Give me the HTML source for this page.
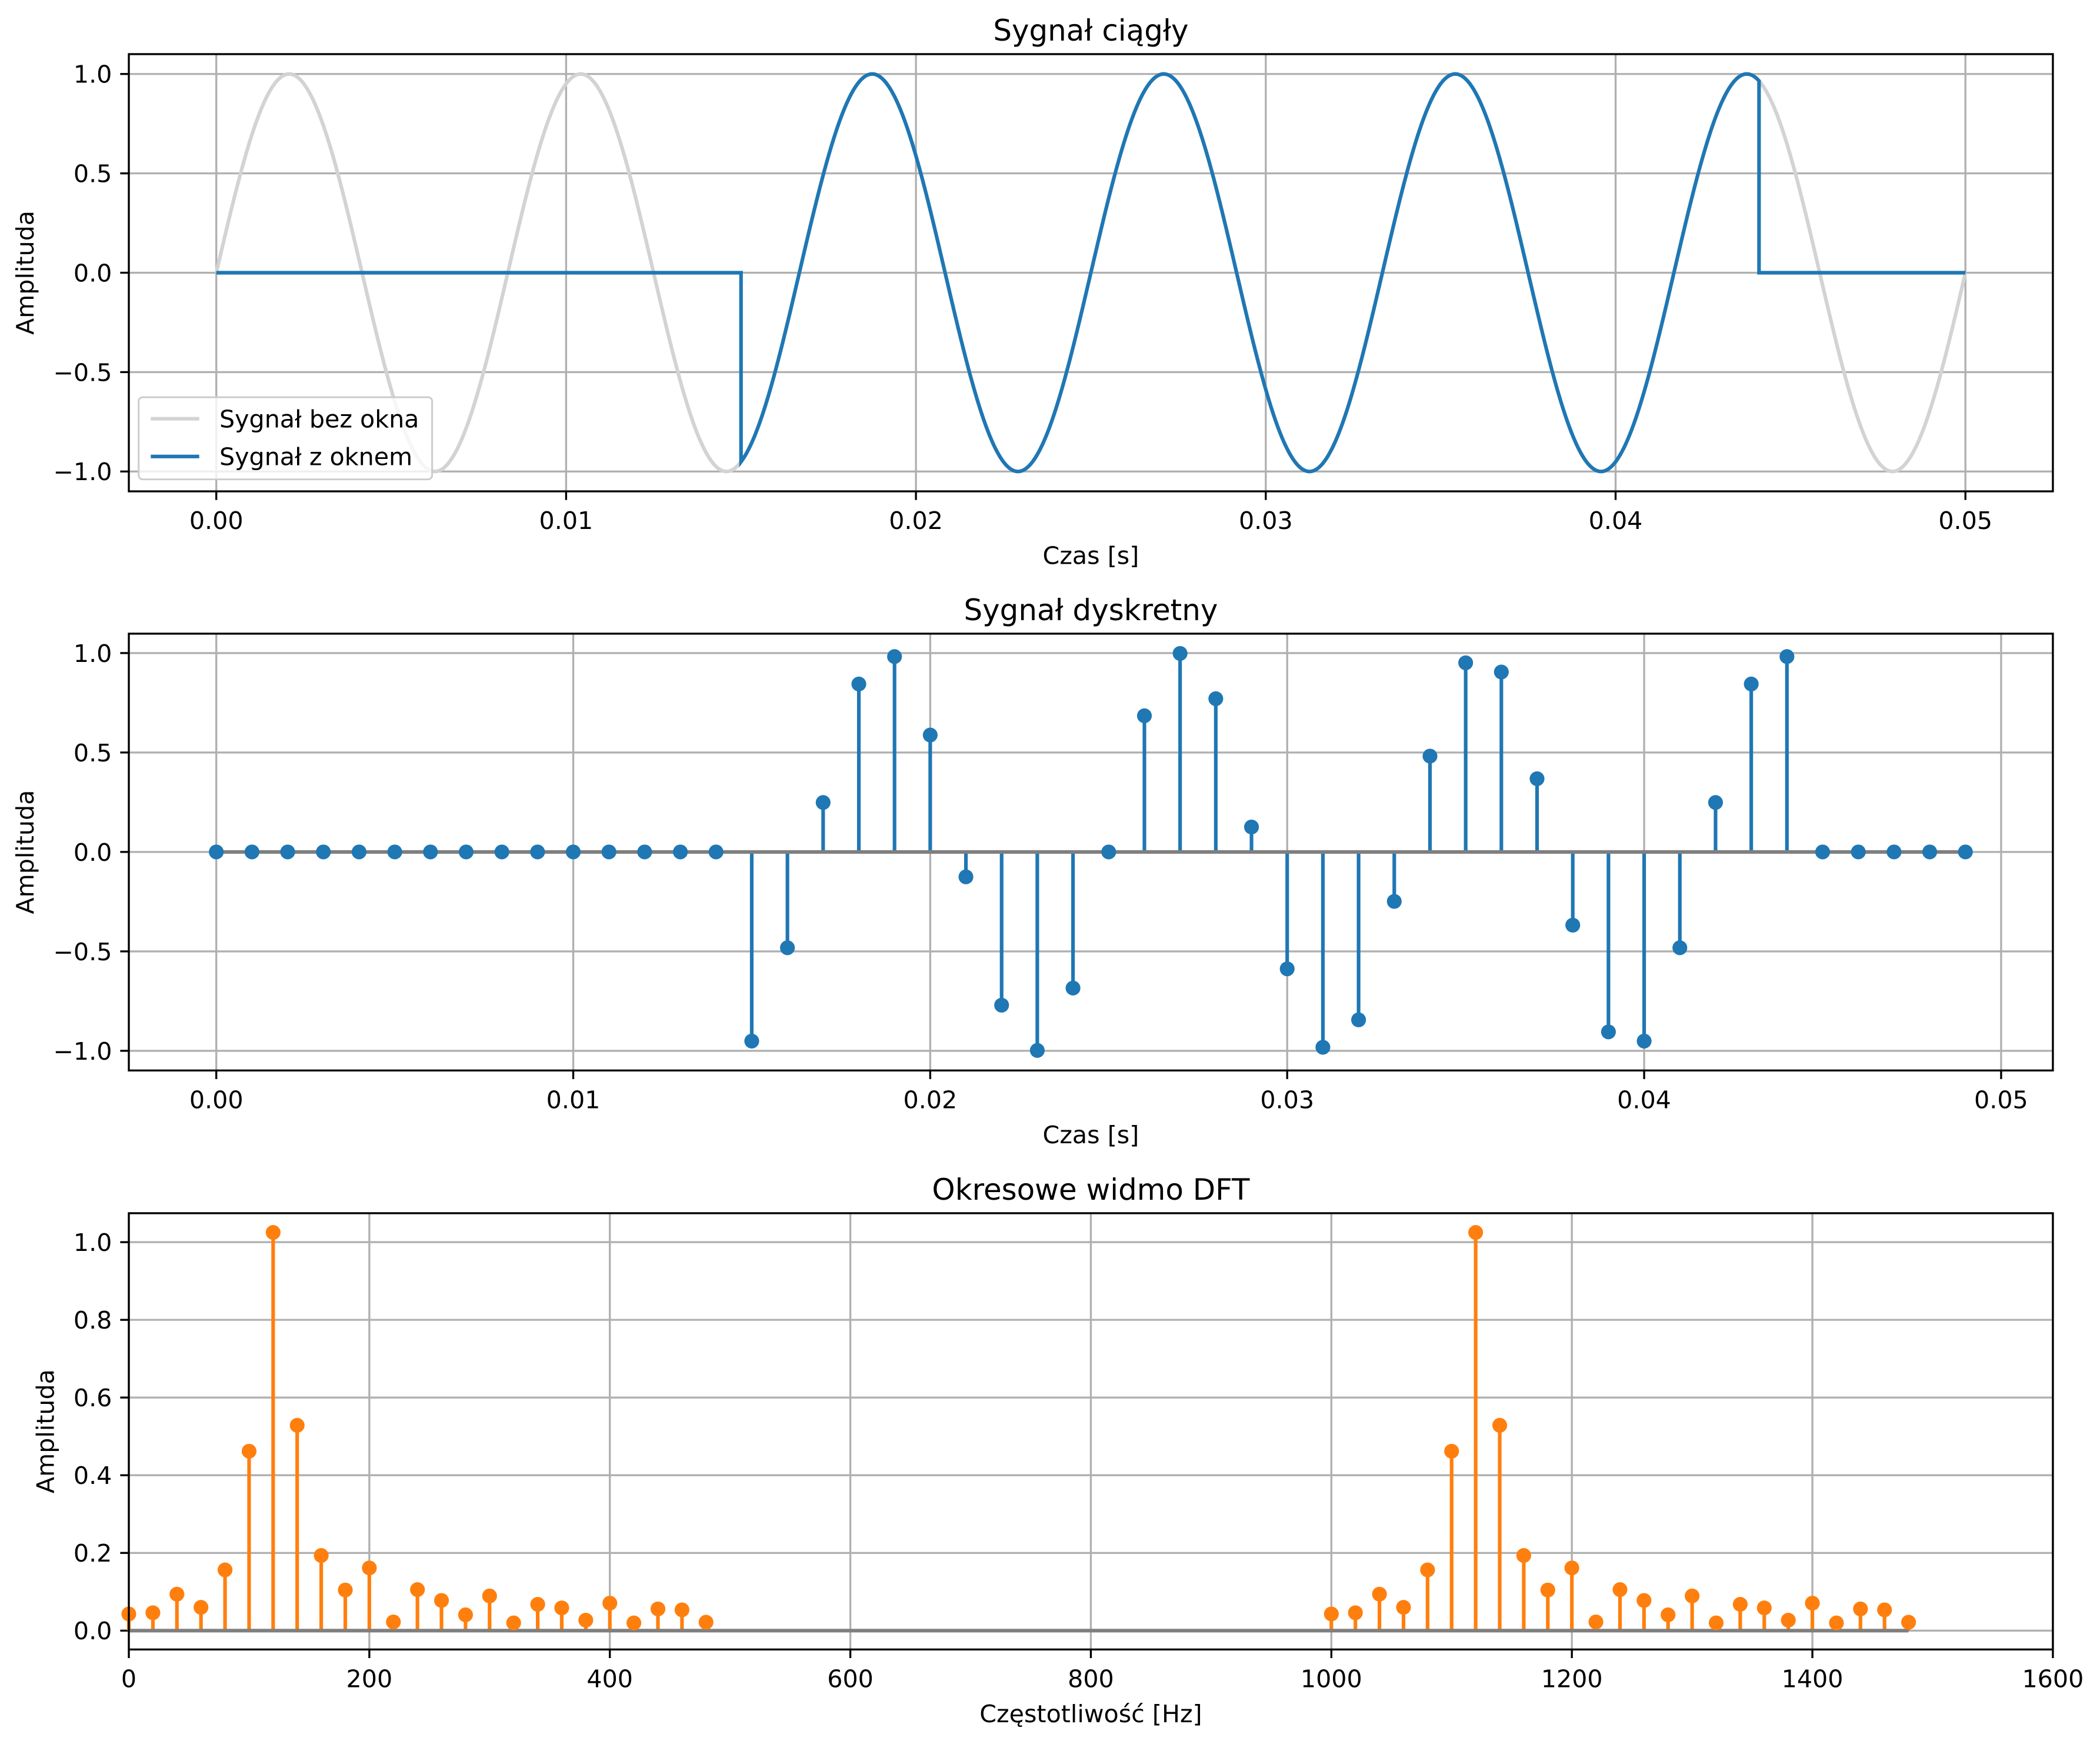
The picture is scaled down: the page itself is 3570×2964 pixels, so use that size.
<!DOCTYPE html>
<html><head><meta charset="utf-8"><style>
html,body{margin:0;padding:0;background:#fff;}
svg{display:block;}
text{font-family:"DejaVu Sans","Liberation Sans",sans-serif;fill:#000;}
</style></head><body>
<svg id="s" width="3570" height="2964" viewBox="0 0 1560 1295.2" xmlns="http://www.w3.org/2000/svg"></svg>
<script>
const S=document.getElementById('s');let h='';
const f=v=>v.toFixed(2);
const FS=18,TS=21.8;
function txt(x,y,t,sz,anc,extra){h+=`<text x="${f(x)}" y="${f(y)}" font-size="${sz}" text-anchor="${anc||'middle'}" ${extra||''}>${t}</text>`;}
function line(x1,y1,x2,y2,c,w){h+=`<line x1="${f(x1)}" y1="${f(y1)}" x2="${f(x2)}" y2="${f(y2)}" stroke="${c}" stroke-width="${w}"/>`;}
function axes(L,R,T,B,xt,yt,X,Y,title,xl,ylx){
  xt.forEach(([v,l])=>{const x=X(v);line(x,T,x,B,'#b0b0b0',1.46);line(x,B,x,B+6.4,'#000',1.46);txt(x,B+28,l,FS);});
  yt.forEach(([v,l])=>{const y=Y(v);line(L,y,R,y,'#b0b0b0',1.46);line(L-6.4,y,L,y,'#000',1.46);txt(L-12.5,y+6.5,l,FS,'end');});
  txt((L+R)/2,T-10,title,TS);
  txt((L+R)/2,B+54,xl,FS);
  h+=`<text x="${ylx}" y="${(T+B)/2}" font-size="${FS}" text-anchor="middle" transform="rotate(-90 ${ylx} ${(T+B)/2})">Amplituda</text>`;
}
function frame(L,R,T,B){h+=`<rect x="${L}" y="${T}" width="${R-L}" height="${B-T}" fill="none" stroke="#000" stroke-width="1.46"/>`;}
const w=2*Math.PI*120;
const L0=95.7,R0=1525;
// Panel 1
{const L=L0,R=R0,T=40.2,B=364.9;const sx=(R-L)/0.055;const X=t=>L+(t+0.0025)*sx,Y=v=>202.55-v*147.6;
axes(L,R,T,B,[[0,'0.00'],[.01,'0.01'],[.02,'0.02'],[.03,'0.03'],[.04,'0.04'],[.05,'0.05']],
 [[1,'1.0'],[.5,'0.5'],[0,'0.0'],[-.5,'−0.5'],[-1,'−1.0']],X,Y,'Sygnał ciągły','Czas [s]',25);
let p='';for(let i=0;i<=2000;i++){const t=i*0.05/2000;p+=(i?'L':'M')+f(X(t))+' '+f(Y(Math.sin(w*t)));}
h+=`<path d="${p}" fill="none" stroke="#d3d3d3" stroke-width="2.7"/>`;
p='';const a=0.015,b=0.0441;
for(let i=0;i<=2000;i++){const t=i*0.05/2000;let v=(t>=a&&t<=b)?Math.sin(w*t):0;p+=(i?'L':'M')+f(X(t))+' '+f(Y(v));
 if(i<2000){const t2=(i+1)*0.05/2000; if(t<a&&t2>=a){p+='L'+f(X(a))+' '+f(Y(0))+'L'+f(X(a))+' '+f(Y(Math.sin(w*a)));} if(t<=b&&t2>b){p+='L'+f(X(b))+' '+f(Y(Math.sin(w*b)))+'L'+f(X(b))+' '+f(Y(0));}}}
h+=`<path d="${p}" fill="none" stroke="#1f77b4" stroke-width="2.7"/>`;
frame(L,R,T,B);
h+=`<rect x="103" y="295" width="218" height="61" rx="3" fill="#fff" fill-opacity="0.8" stroke="#ccc" stroke-width="1.3"/>`;
line(112,311,148,311,'#d3d3d3',2.7);line(112,339,148,339,'#1f77b4',2.7);
txt(163,317.5,'Sygnał bez okna',FS,'start');txt(163,345.5,'Sygnał z oknem',FS,'start');}
// Panel 2
const xs=[];for(let n=0;n<50;n++){xs.push((n>=15&&n<=44)?Math.sin(w*n/1000):0);}
{const L=L0,R=R0,T=470.6,B=795;const sx=(R-L)/0.0539;const X=t=>L+(t+0.00245)*sx,Y=v=>632.7-v*147.7;
axes(L,R,T,B,[[0,'0.00'],[.01,'0.01'],[.02,'0.02'],[.03,'0.03'],[.04,'0.04'],[.05,'0.05']],
 [[1,'1.0'],[.5,'0.5'],[0,'0.0'],[-.5,'−0.5'],[-1,'−1.0']],X,Y,'Sygnał dyskretny','Czas [s]',25);
xs.forEach((v,n)=>line(X(n/1000),Y(0),X(n/1000),Y(v),'#1f77b4',2.7));
line(X(0),Y(0),X(0.049),Y(0),'#7f7f7f',2.7);
xs.forEach((v,n)=>h+=`<circle cx="${f(X(n/1000))}" cy="${f(Y(v))}" r="5.5" fill="#1f77b4"/>`);
frame(L,R,T,B);}
// Panel 3
{const L=L0,R=R0,T=901,B=1225;const X=q=>L+q*(R-L)/1600,Y=v=>1211-v*288.5;
axes(L,R,T,B,[0,200,400,600,800,1000,1200,1400,1600].map(v=>[v,String(v)]),
 [0,.2,.4,.6,.8,1].map(v=>[v,v.toFixed(1)]),X,Y,'Okresowe widmo DFT','Częstotliwość [Hz]',40);
const mag=[];for(let k=0;k<25;k++){let re=0,im=0;for(let n=0;n<50;n++){re+=xs[n]*Math.cos(2*Math.PI*k*n/50);im-=xs[n]*Math.sin(2*Math.PI*k*n/50);}mag.push(Math.hypot(re,im));}
const sc=1.025/Math.max(...mag);const pts=[];
mag.forEach((m,k)=>{pts.push([k*20,m*sc]);});mag.forEach((m,k)=>{pts.push([1000+k*20,m*sc]);});
pts.forEach(([q,v])=>line(X(q),Y(0),X(q),Y(v),'#ff7f0e',2.7));
line(X(0),Y(0),X(1480),Y(0),'#7f7f7f',2.7);
pts.forEach(([q,v])=>h+=`<circle cx="${f(X(q))}" cy="${f(Y(v))}" r="5.5" fill="#ff7f0e"/>`);
frame(L,R,T,B);}
S.innerHTML=h;
</script>
</body></html>
